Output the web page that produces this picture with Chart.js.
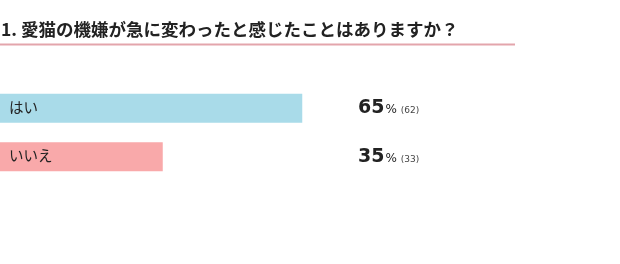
<!DOCTYPE html>
<html>
<head>
<meta charset="utf-8">
<script src="https://cdn.jsdelivr.net/npm/chart.js@4"></script>
<style>
  html, body { margin: 0; padding: 0; background: #fff; }
  #wrap { width: 620px; height: 264px; position: relative; }
</style>
</head>
<body>
<div id="wrap"><canvas id="chart-survey"></canvas></div>
<script>
var questionTitle = '1. 愛猫の機嫌が急に変わったと感じたことはありますか？';
var answers = ['はい', 'いいえ'];
var percents = [65, 35];
var counts = [62, 33];
var barColors = ['#a9dbe9', '#f9a9aa'];

const jpFont = '"Noto Sans CJK JP", "Noto Sans", sans-serif';

// title + red rule, answer text inside bars, percent labels to the right
const surveyDecor = {
    id: 'surveyDecor',
    afterDatasetsDraw(chart) {
        const ctx = chart.ctx;
        const meta = chart.getDatasetMeta(0);
        ctx.save();

        ctx.fillStyle = '#222';
        ctx.font = 'bold 17.5px ' + jpFont;
        ctx.textBaseline = 'middle';
        ctx.textAlign = 'left';
        ctx.fillText(questionTitle, 1, 29);

        ctx.strokeStyle = '#e3a5ac';
        ctx.lineWidth = 2;
        ctx.beginPath();
        ctx.moveTo(0, 44.5);
        ctx.lineTo(515, 44.5);
        ctx.stroke();

        meta.data.forEach(function (bar, i) {
            ctx.fillStyle = '#222';
            ctx.font = '14.5px ' + jpFont;
            ctx.textBaseline = 'middle';
            ctx.fillText(answers[i], 9, bar.y - 1);

            var x = 358;
            var base = bar.y + 5;
            ctx.textBaseline = 'alphabetic';
            ctx.font = 'bold 19px "DejaVu Sans", sans-serif';
            ctx.fillStyle = '#222';
            var pct = String(percents[i]);
            ctx.fillText(pct, x, base);
            x += ctx.measureText(pct).width + 1;
            ctx.font = '12px "DejaVu Sans", sans-serif';
            ctx.fillText('%', x, base);
            x += ctx.measureText('%').width + 4;
            ctx.font = '9px "DejaVu Sans", sans-serif';
            ctx.fillStyle = '#444';
            ctx.fillText('(' + counts[i] + ')', x, base);
        });
        ctx.restore();
    }
};

const ctx1 = document.getElementById('chart-survey').getContext('2d');
const mySurveyChart = new Chart(ctx1, {
    type: 'bar',
    data: {
        labels: answers,
        datasets: [
            {
                label: '',
                data: percents,
                backgroundColor: barColors,
                borderWidth: 0,
                barPercentage: 0.6,
                categoryPercentage: 1.0,
            }
        ]
    },
    options: {
        indexAxis: 'y',
        responsive: true,
        maintainAspectRatio: false,
        animation: false,
        layout: {
            padding: { top: 84, bottom: 83, left: 0, right: 155 }
        },
        scales: {
            x: { display: false, min: 0, max: 100 },
            y: { display: false }
        },
        plugins: {
            legend: { display: false },
            title: { display: false },
            tooltip: { enabled: false }
        }
    },
    plugins: [surveyDecor]
});
</script>
</body>
</html>
